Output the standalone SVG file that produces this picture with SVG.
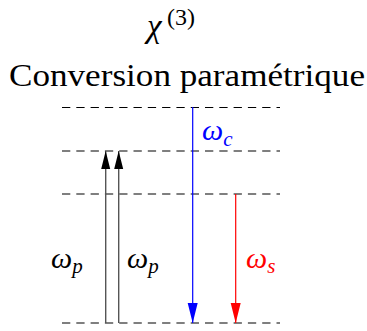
<svg xmlns="http://www.w3.org/2000/svg" width="367" height="331" viewBox="0 0 367 331">
<style>
.lvl{stroke:#000;stroke-width:1.1;stroke-dasharray:8.3 6;fill:none}
.t{font-family:"Liberation Serif","DejaVu Serif",serif;fill:#000}
.m{font-family:"Liberation Serif","DejaVu Serif",serif;font-style:italic}
</style>
<defs>
<marker id="ahk" markerUnits="userSpaceOnUse" markerWidth="19" markerHeight="10" refX="18" refY="4.5" orient="auto" viewBox="0 0 19 10"><path d="M0,0 L18,4.5 L0,9 z" fill="#000"/></marker>
<marker id="ahb" markerUnits="userSpaceOnUse" markerWidth="21" markerHeight="11" refX="20" refY="5" orient="auto" viewBox="0 0 21 11"><path d="M0,0 L20,5 L0,10 z" fill="#0000ff"/></marker>
<marker id="ahr" markerUnits="userSpaceOnUse" markerWidth="21" markerHeight="11" refX="20" refY="5" orient="auto" viewBox="0 0 21 11"><path d="M0,0 L20,5 L0,10 z" fill="#ff0000"/></marker>
</defs>
<g id="title">
<text class="t" x="147" y="37" font-size="33" font-style="italic">χ</text>
<text class="t" x="167" y="25" font-size="24">(3)</text>
<text class="t" x="9" y="86" font-size="31" textLength="356" lengthAdjust="spacingAndGlyphs">Conversion paramétrique</text>
</g>
<g id="levels">
<line class="lvl" x1="62" y1="107.5" x2="280" y2="107.5"/>
<line class="lvl" x1="62" y1="151" x2="280" y2="151"/>
<line class="lvl" x1="62" y1="194" x2="280" y2="194"/>
<line class="lvl" x1="62" y1="323" x2="280" y2="323"/>
</g>
<g id="connectors">
<line x1="105.7" y1="323" x2="105.7" y2="151" stroke="#555" stroke-width="1.4" marker-end="url(#ahk)"/>
<line x1="118.7" y1="323" x2="118.7" y2="151" stroke="#555" stroke-width="1.4" marker-end="url(#ahk)"/>
<line x1="192.7" y1="107" x2="192.7" y2="323" stroke="#0000ff" stroke-width="1.2" marker-end="url(#ahb)"/>
<line x1="235.7" y1="194" x2="235.7" y2="323" stroke="#ff0000" stroke-width="1.2" marker-end="url(#ahr)"/>
</g>
<g id="label-wc">
<text class="m" x="202" y="140" font-size="30" fill="#0000ff">ω<tspan font-size="21" dy="6">c</tspan></text>
</g>
<g id="label-wp1">
<text class="m" x="51" y="268" font-size="30" fill="#000">ω<tspan font-size="21" dy="5">p</tspan></text>
</g>
<g id="label-wp2">
<text class="m" x="127" y="268" font-size="30" fill="#000">ω<tspan font-size="21" dy="5">p</tspan></text>
</g>
<g id="label-ws">
<text class="m" x="246" y="268" font-size="30" fill="#ff0000">ω<tspan font-size="21" dy="5">s</tspan></text>
</g>
</svg>
